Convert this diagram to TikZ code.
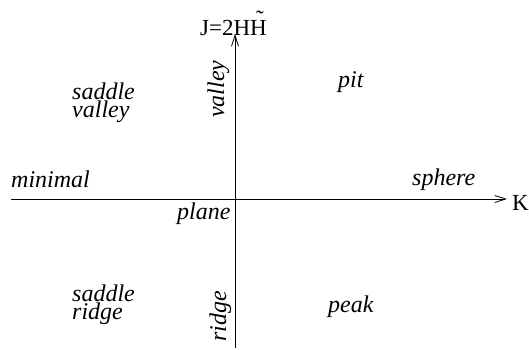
\documentclass[tikz,border=0pt]{standalone}
\usepackage{fontspec}
\setmainfont{Liberation Serif}
\usetikzlibrary{arrows.meta}

\begin{document}
\begin{tikzpicture}[
x=1pt, y=-1pt,
lbl/.style={font=\fontsize{24}{15}\itshape\selectfont, inner sep=0pt, align=left},
axlbl/.style={font=\fontsize{23}{26}\selectfont, inner sep=0pt},
axis/.style={-{Straight Barb[length=11pt,width=7pt]}, line width=0.8pt}
]
\useasboundingbox (0,0) rectangle (529,349);

\coordinate (west) at (11,199);
\coordinate (east) at (507,199);
\coordinate (south) at (235,348);
\coordinate (north) at (235,34);

\draw[axis] (west) -- (east);
\draw[axis] (south) -- (north);

\node[axlbl, anchor=base west] (klbl) at (512,210) {K};
\node[axlbl, anchor=base west] (jlbl) at (200,35)
  {J=2H\makebox[0pt][l]{\hspace{6pt}\raisebox{9pt}{\char"02DC}}H};

\node[lbl, anchor=north west] (saddlevalley) at (72,83) {saddle\\valley};
\node[lbl, anchor=north west] (saddleridge) at (72,285) {saddle\\ridge};
\node[lbl, anchor=base west] (pit) at (338,87) {pit};
\node[lbl, anchor=base west] (peak) at (328,312) {peak};
\node[lbl, anchor=base west] (minimal) at (11,187) {minimal};
\node[lbl, anchor=base west] (sphere) at (412,185) {sphere};
\node[lbl, anchor=base west] (plane) at (177,219) {plane};
\node[lbl, anchor=base west, rotate=90] (valley) at (224,118) {valley};
\node[lbl, anchor=base west, rotate=90] (ridge) at (226,342) {ridge};

\end{tikzpicture}
\end{document}
